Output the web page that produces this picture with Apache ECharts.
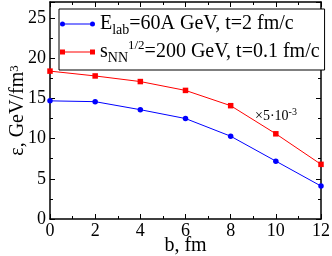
<!DOCTYPE html>
<html><head><meta charset="utf-8">
<script src="https://cdn.jsdelivr.net/npm/echarts@6/dist/echarts.min.js"></script>
<style>html,body{margin:0;padding:0;background:#fff}#c{width:332px;height:256px}</style>
</head><body><div id="c"></div>
<script>
const bValues = [0, 2, 4, 6, 8, 10, 12];
const elabSeries = [14.7, 14.6, 13.6, 12.5, 10.3, 7.2, 4.1];
const rhicSeries = [18.4, 17.8, 17.1, 16.0, 14.1, 10.6, 6.8];
const xTicks = [0, 2, 4, 6, 8, 10, 12];
const yTicks = [0, 5, 10, 15, 20, 25];

const font = 'Liberation Serif';
const chart = echarts.init(document.getElementById('c'), null, {renderer: 'canvas'});
const circIcon = 'path://M0,3.5A2.5,2.5 0 1,1 5,3.5A2.5,2.5 0 1,1 0,3.5Z M2.5,3 L32.5,3 L32.5,4 L2.5,4Z M30,3.5A2.5,2.5 0 1,1 35,3.5A2.5,2.5 0 1,1 30,3.5Z';
const sqIcon = 'path://M0,1L5,1L5,6L0,6Z M2.5,3 L32.5,3 L32.5,4 L2.5,4Z M30,1L35,1L35,6L30,6Z';
const axisCommon = {
  type: 'value', min: 0, axisLine: {show: true, onZero: false, lineStyle: {color: '#000', width: 1.5}},
  axisTick: {show: true, inside: true, length: 5, lineStyle: {color: '#000'}},
  minorTick: {show: true, splitNumber: 2, length: 3, lineStyle: {color: '#000'}},
  splitLine: {show: false}
};
chart.setOption({
  animation: false,
  grid: {left: 50, right: 11, top: 2, bottom: 37, outerBoundsMode: 'none', containLabel: false},
  xAxis: [
    Object.assign({}, axisCommon, {position: 'bottom', max: 12, interval: 2,
      axisLabel: {fontFamily: font, fontSize: 18, color: '#000', margin: 3,
        formatter: v => xTicks.includes(v) ? String(v) : ''},
      name: 'b, fm', nameLocation: 'middle', nameGap: 17, nameMoveOverlap: false,
      nameTextStyle: {fontFamily: font, fontSize: 20, color: '#000'}}),
    Object.assign({}, axisCommon, {position: 'top', max: 12, interval: 2, axisLabel: {show: false}})
  ],
  yAxis: [
    Object.assign({}, axisCommon, {position: 'left', max: 27, interval: 5,
      axisLabel: {fontFamily: font, fontSize: 18, color: '#000', margin: 4, showMaxLabel: false,
        formatter: v => yTicks.includes(v) ? String(v) : ''},
      name: '{n|ε, GeV/fm}{s|3}', nameLocation: 'middle', nameGap: 22, nameMoveOverlap: false,
      nameTextStyle: {rich: {n: {fontFamily: font, fontSize: 20, color: '#000'},
        s: {fontFamily: font, fontSize: 13, color: '#000', verticalAlign: 'top'}}}}),
    Object.assign({}, axisCommon, {position: 'right', max: 27, interval: 5, axisLabel: {show: false}})
  ],
  legend: {
    orient: 'vertical', left: 59, top: 9, itemGap: 2, itemWidth: 35, itemHeight: 7,
    borderColor: '#000', borderWidth: 1, borderRadius: 0, backgroundColor: '#fff',
    padding: [5, 5, 5, 1],
    data: [{name: 'elab', icon: circIcon}, {name: 'rhic', icon: sqIcon}],
    formatter: n => n === 'elab'
      ? '{t|E}{sub|lab}{t|=60A GeV, t=2 fm/c}'
      : '{t|s}{sub|NN}{sup|1/2}{t|=200 GeV, t=0.1 fm/c}',
    textStyle: {fontFamily: font, fontSize: 20, color: '#000', rich: {
      t: {fontFamily: font, fontSize: 20, color: '#000', height: 26},
      sub: {fontFamily: font, fontSize: 14, color: '#000', verticalAlign: 'bottom', lineHeight: 14},
      sup: {fontFamily: font, fontSize: 13, color: '#000', verticalAlign: 'top', lineHeight: 10}
    }}
  },
  graphic: [{type: 'text', left: 255, top: 107, style: {
    text: '{a|×5·10}{b|-3}', rich: {a: {fontFamily: font, fontSize: 14, fill: '#000'},
      b: {fontFamily: font, fontSize: 10, fill: '#000', verticalAlign: 'bottom', padding: [0,0,9,0]}}}}],
  series: [
    {name: 'elab', type: 'line', data: bValues.map((b, i) => [b, elabSeries[i]]),
      symbol: 'circle', symbolSize: 5.5, color: '#0000ff', lineStyle: {width: 1, color: '#0000ff'}},
    {name: 'rhic', type: 'line', data: bValues.map((b, i) => [b, rhicSeries[i]]),
      symbol: 'rect', symbolSize: 5.5, color: '#ff0000', lineStyle: {width: 1, color: '#ff0000'}}
  ]
});
</script></body></html>
